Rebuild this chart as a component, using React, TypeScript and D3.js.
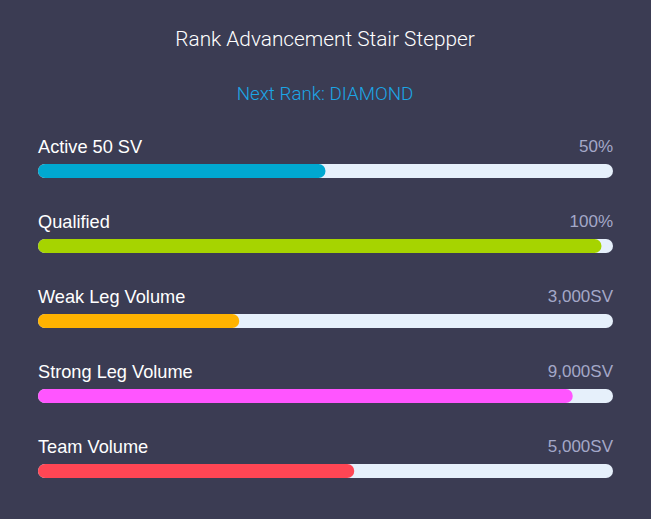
import React from "react";
import * as d3 from "d3";

const title = "Rank Advancement Stair Stepper";
const subtitle = "Next Rank: DIAMOND";
const categories = ["Active 50 SV", "Qualified", "Weak Leg Volume", "Strong Leg Volume", "Team Volume"];
const valueLabels = ["50%", "100%", "3,000SV", "9,000SV", "5,000SV"];
const progress = [50, 98, 35, 93, 55];
const colors = ["#00a8d0", "#a6d400", "#ffb300", "#ff55ff", "#ff4654"];

const W = 651;
const H = 519;

export default function App() {
  const x = d3.scaleLinear().domain([0, 100]).range([38, 613]);
  const y = d3.scalePoint<string>().domain(categories).range([164, 464]);
  const barH = 14;
  return (
    <svg width={W} height={H} style={{ position: "absolute", left: 0, top: 0, display: "block" }}>
      <rect x={0} y={0} width={W} height={H} fill="#3b3c53" />
      <text x={325} y={45.5} textAnchor="middle" fill="#ffffff" fontFamily="Roboto" fontWeight={300} fontSize={20.8}>
        {title}
      </text>
      <text x={325} y={100} textAnchor="middle" fill="#1ba6e6" fontFamily="Roboto" fontWeight={300} fontSize={18.8}>
        {subtitle}
      </text>
      {categories.map((c, i) => {
        const yy = y(c) as number;
        return (
          <g key={c}>
            <text x={38} y={yy - 11} fill="#ffffff" fontFamily="'Liberation Sans', Arial, sans-serif" fontSize={18.2}>
              {c}
            </text>
            <text x={613} y={yy - 12} textAnchor="end" fill="#a4a8c8" fontFamily="'Liberation Sans', Arial, sans-serif" fontSize={17}>
              {valueLabels[i]}
            </text>
            <rect x={x(0)} y={yy} width={x(100) - x(0)} height={barH} rx={barH / 2} fill="#e6f0fb" />
            <rect x={x(0)} y={yy} width={x(progress[i]) - x(0)} height={barH} rx={barH / 2} fill={colors[i]} />
          </g>
        );
      })}
    </svg>
  );
}
